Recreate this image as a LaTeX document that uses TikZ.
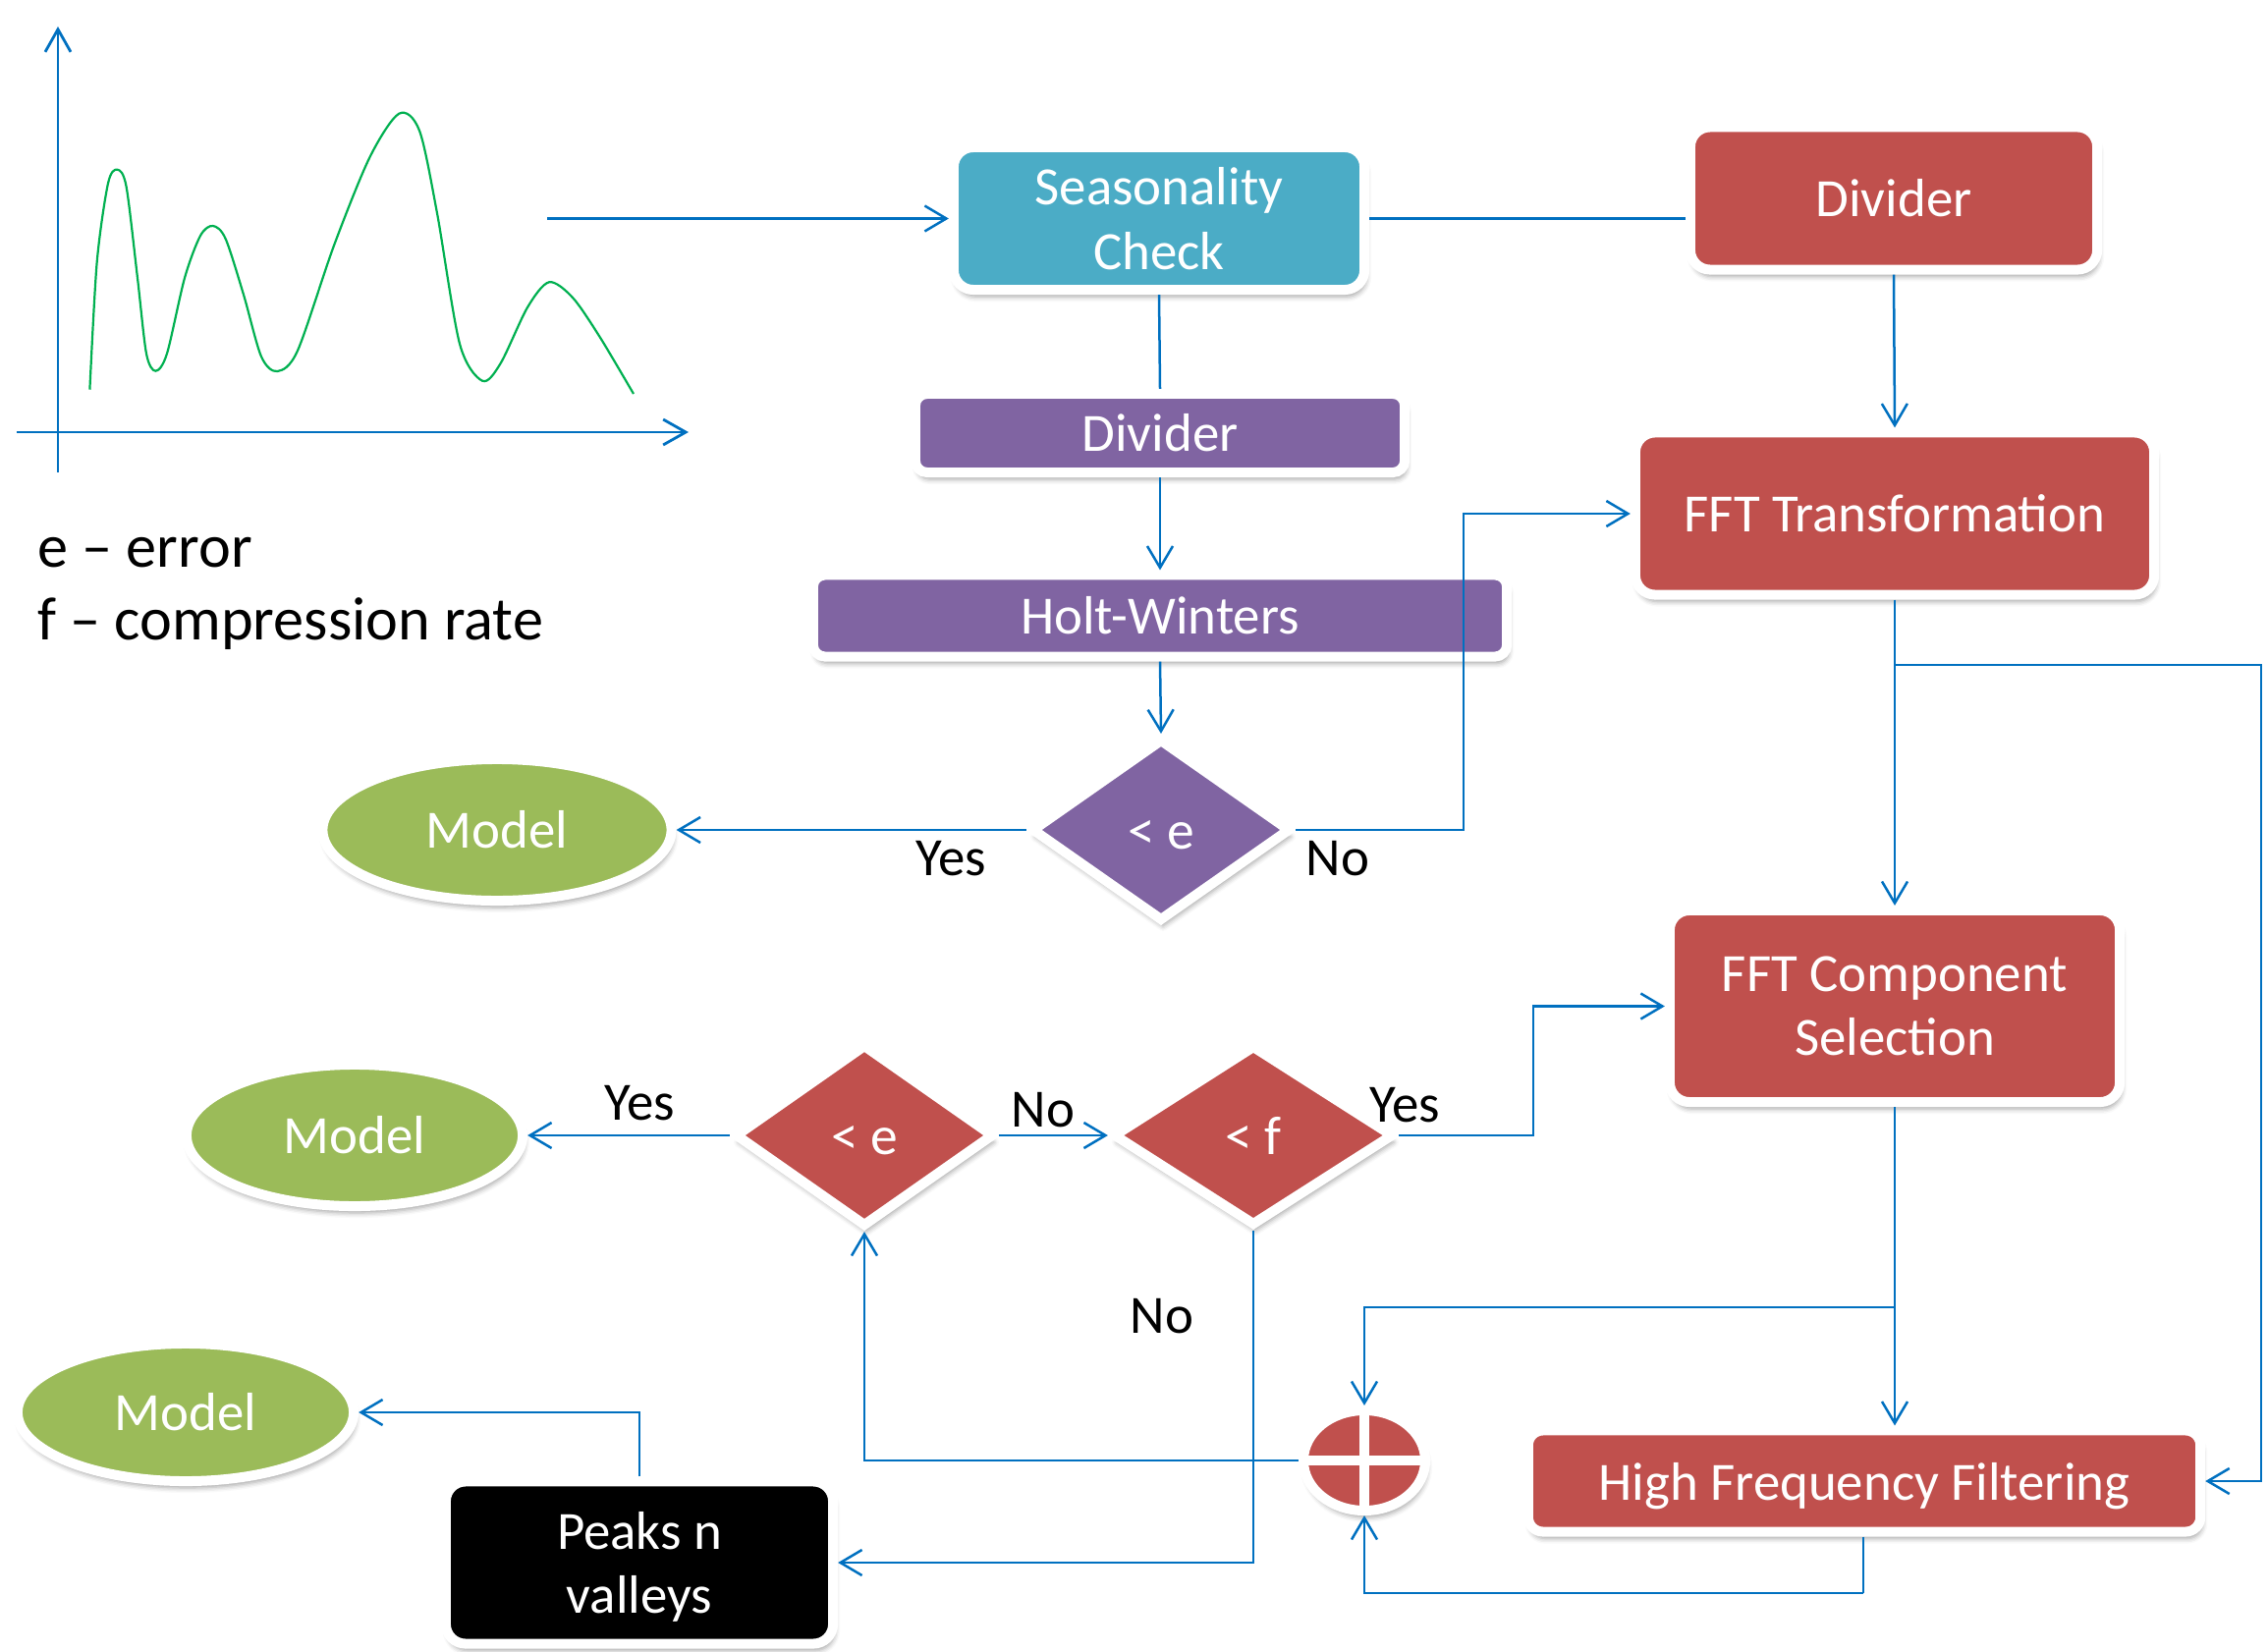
\documentclass[tikz,border=0pt]{standalone}
\usepackage{fontspec}
\setmainfont{Carlito}
\usetikzlibrary{arrows.meta,shapes.geometric,shadows.blur,calc}
\definecolor{cyanF}{HTML}{4BACC6}
\definecolor{redF}{HTML}{C0504D}
\definecolor{purF}{HTML}{8064A2}
\definecolor{grnF}{HTML}{9BBB59}
\definecolor{lineB}{HTML}{0070C0}
\definecolor{curveG}{HTML}{00B050}
\newcommand{\lowtxt}[1]{\raisebox{-0.09em}[\height][\depth]{#1}}
\begin{document}
\begin{tikzpicture}[x=0.01cm,y=-0.01cm,
  shapebase/.style={draw=white, line width=0.1cm, text=white, inner sep=0pt, outer sep=0.05cm,
    font=\fontsize{15.6}{18.6}\selectfont, align=center,
    blur shadow={shadow xshift=0.02cm, shadow yshift=-0.07cm, shadow blur radius=0.05cm, shadow opacity=35}},
  rbox/.style={shapebase, rectangle, rounded corners=0.2cm},
  dia/.style={shapebase, diamond, font=\fontsize{15.8}{18.6}\selectfont},
  ell/.style={shapebase, ellipse, fill=grnF},
  conn/.style={draw=lineB, line width=0.025cm},
  arr/.style={conn, -{Straight Barb[length=0.22cm,width=0.26cm]}},
  lbl/.style={inner sep=0pt, font=\fontsize{15.6}{18.6}\selectfont, text=black},
  legend/.style={inner sep=0pt, font=\fontsize{17.7}{21}\selectfont, text=black}
]
\useasboundingbox (0,0) rectangle (2309,1682);

% ---- small graph ----
\coordinate (yb) at (59,481);
\coordinate (yt) at (59,27);
\coordinate (xl) at (17,440);
\coordinate (xr) at (701,440);
\draw[conn, line width=0.028cm, -{Straight Barb[length=0.23cm,width=0.26cm]}] (yb) -- (yt);
\draw[conn, line width=0.028cm, -{Straight Barb[length=0.23cm,width=0.26cm]}] (xl) -- (xr);
\draw[curveG, line width=0.022cm] plot[smooth, tension=0.5] coordinates {
 (91.4,396.7) (98.7,266.7) (110,186.7) (119.4,172.7) (128.6,190) (140,283) (149,360) (158.4,377.7)
 (170,360) (188,283) (204,240) (216.7,230) (229.6,243) (248,300) (266,363) (282.4,378)
 (303,357) (340,250) (376.5,160) (406.3,115.7) (427,133) (445,217) (468,350) (491,387.7)
 (509.6,370) (537,313) (559,287.3) (583,303) (610.6,343) (645,401)};

% ---- legend ----
\node[legend, anchor=base west] (le) at (38,577) {e – error};
\node[legend, anchor=base west] (lf) at (38,651) {f – compression rate};

% ---- nodes ----
\node[rbox, fill=cyanF, minimum width=4.18cm, minimum height=1.45cm] (seas) at (1180,222.5) {Seasonality\\Check};
\node[rbox, fill=redF, minimum width=4.14cm, minimum height=1.45cm] (divR) at (1928,202) {Divider};
\node[rbox, fill=purF, rounded corners=0.12cm, minimum width=4.98cm, minimum height=0.80cm] (divP) at (1181,441) {Divider};
\node[rbox, fill=purF, rounded corners=0.12cm, minimum width=7.06cm, minimum height=0.83cm] (hw) at (1181,627) {Holt-Winters};
\node[dia, fill=purF, minimum width=2.64cm, minimum height=1.86cm] (d1) at (1182,845) {\lowtxt{\textless{} e}};
\node[ell, minimum width=3.55cm, minimum height=1.44cm] (m1) at (506,845) {Model};
\node[rbox, fill=redF, minimum width=5.28cm, minimum height=1.65cm] (fftT) at (1929,523) {FFT Transformation};
\node[rbox, fill=redF, minimum width=4.58cm, minimum height=1.95cm] (fftC) at (1929,1024.5) {FFT Component\\Selection};
\node[rbox, fill=redF, rounded corners=0.15cm, minimum width=6.84cm, minimum height=1.03cm, text depth=0pt] (hff) at (1898,1508) {High Frequency Filtering};
\node[shapebase, ellipse, fill=redF, minimum width=1.24cm, minimum height=1.02cm] (sum) at (1389,1487) {};
\draw[white, line width=0.1cm] (sum.north) -- (sum.south) (sum.west) -- (sum.east);
\node[dia, fill=redF, minimum width=2.64cm, minimum height=1.86cm] (d2) at (880,1156) {\lowtxt{\textless{} e}};
\node[dia, fill=redF, minimum width=2.86cm, minimum height=1.84cm] (d3) at (1276,1156) {\textless{} f};
\node[ell, minimum width=3.42cm, minimum height=1.44cm] (m2) at (361,1156) {Model};
\node[rbox, fill=black, minimum width=3.94cm, minimum height=1.65cm, text depth=0pt] (peaks) at (651,1591) {Peaks n\\valleys};
\node[ell, minimum width=3.42cm, minimum height=1.40cm] (m3) at (189,1438) {Model};

% ---- connectors ----
\coordinate (gstart) at (557,222.5);
\draw[arr] (gstart) -- (seas.west);
\draw[conn] (seas.east) -- (seas.east -| divR.west);
\draw[conn] (seas.south) -- (divP.north);
\draw[arr] (divP.south) -- (hw.north);
\draw[arr] (hw.south) -- (d1.north);
\draw[arr] (d1.west) -- (m1.east);
\coordinate (k1) at (1490,523);
\draw[arr] (d1.east) -| (k1) -- (fftT.west);
\draw[arr] (divR.south) -- (fftT.north);
\draw[arr] (fftT.south) -- (fftC.north);
\coordinate (b1) at (1929,677);
\coordinate (kR) at (2302,1508);
\draw[arr] (b1) -| (kR) -- (hff.east);
\draw[arr] (fftC.south) -- (fftC.south |- hff.north);
\coordinate (b2) at (1929,1331);
\draw[arr] (b2) -| (sum.north);
\coordinate (k3) at (1897,1622);
\draw[conn] (hff.south -| k3) -- (k3);
\draw[arr] (k3) -| (sum.south);
\draw[arr] (sum.west) -| (d2.south);
\draw[arr] (d2.west) -- (m2.east);
\draw[arr] (d2.east) -- (d3.west);
\coordinate (k4) at (1561,1024.5);
\draw[arr] (d3.east) -| (k4) -- (fftC.west);
\draw[arr] (d3.south) |- (peaks.east);
\draw[arr] (peaks.north) |- (m3.east);

% ---- labels ----
\node[lbl] (y1) at (968,874) {Yes};
\node[lbl] (n1) at (1362,874) {No};
\node[lbl] (y2) at (651,1123) {Yes};
\node[lbl] (n2) at (1062,1130) {No};
\node[lbl] (y3) at (1430,1125) {Yes};
\node[lbl] (n3) at (1183,1340) {No};
\end{tikzpicture}
\end{document}
